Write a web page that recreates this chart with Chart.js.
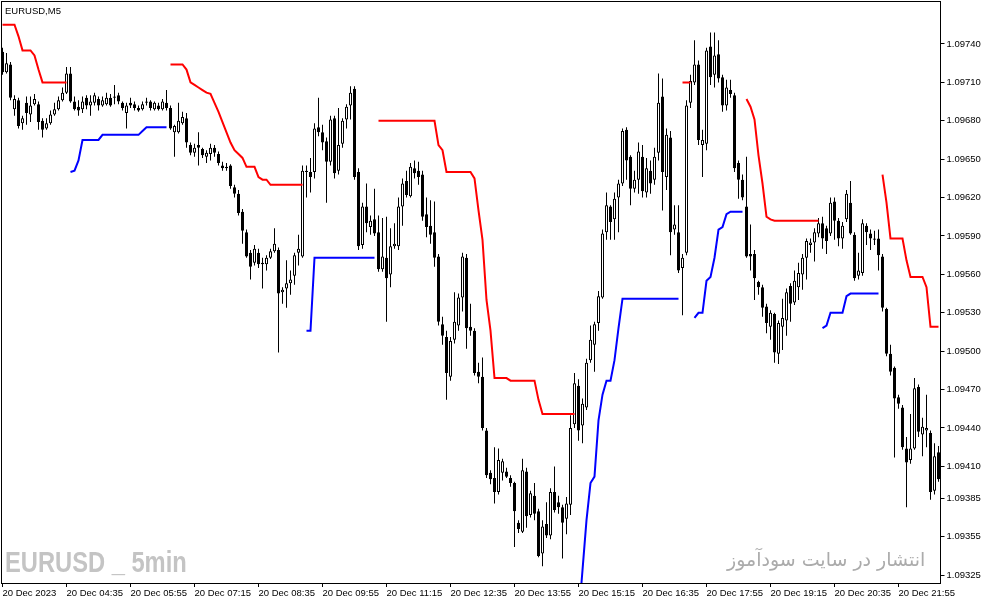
<!DOCTYPE html>
<html>
<head>
<meta charset="utf-8">
<script src="https://cdn.jsdelivr.net/npm/chart.js@4.4.1/dist/chart.umd.min.js"></script>
<style>
    html, body { margin: 0; padding: 0; background: #fff; }
    #wrap { position: relative; width: 987px; height: 605px; overflow: hidden; }
    #chart { position: absolute; left: 0; top: 0; }
    .txt { position: absolute; white-space: nowrap; pointer-events: none; }
    #symbol { left: 5px; top: 5px; font: 9.5px "Liberation Sans", Arial, sans-serif; color: #000; }
    #mark { left: 5px; top: 545px; font: bold 30px "Liberation Sans", Arial, sans-serif; color: #c4c4c4;
        transform: scaleX(0.79); transform-origin: left top; }
    #site { left: 727px; top: 548px; font: 19px "DejaVu Sans", sans-serif; color: #ababab; direction: rtl; }
</style>
</head>
<body>
<div id="wrap">
    <canvas id="chart" width="987" height="605"></canvas>
    <div id="symbol" class="txt">EURUSD,M5</div>
    <div id="mark" class="txt">EURUSD _ 5min</div>
    <div id="site" class="txt">انتشار در سایت سودآموز</div>
</div>
<script>
// EURUSD M5 candles, 20 Dec 2023 from 03:15
const open = [
    1.09734,1.09718,1.09724,1.09689,1.09696,1.09678,1.09694,1.09685,1.09693,1.09693,
    1.09680,1.09674,1.09678,1.09685,1.09689,1.09696,1.09702,1.09717,1.09695,1.09691,
    1.09689,1.09698,1.09692,1.09694,1.09697,1.09692,1.09693,1.09698,1.09698,1.09700,
    1.09694,1.09686,1.09694,1.09693,1.09690,1.09689,1.09694,1.09695,1.09689,1.09692,
    1.09689,1.09694,1.09690,1.09671,1.09671,1.09678,1.09682,1.09661,1.09655,1.09661,
    1.09658,1.09652,1.09654,1.09659,1.09654,1.09645,1.09644,1.09645,1.09628,1.09623,
    1.09609,1.09593,1.09577,1.09569,1.09577,1.09569,1.09568,1.09573,1.09578,1.09579,
    1.09546,1.09549,1.09553,1.09559,1.09577,1.09574,1.09641,1.09640,1.09640,1.09675,
    1.09671,1.09664,1.09648,1.09682,1.09641,1.09662,1.09681,1.09692,1.09705,1.09640,
    1.09583,1.09613,1.09597,1.09603,1.09593,1.09564,1.09573,1.09560,1.09582,1.09582,
    1.09613,1.09633,1.09621,1.09643,1.09641,1.09638,1.09607,1.09598,1.09593,1.09574,
    1.09521,1.09511,1.09480,1.09509,1.09520,1.09542,1.09573,1.09519,1.09516,1.09484,
    1.09480,1.09438,1.09405,1.09401,1.09390,1.09405,1.09406,1.09401,1.09397,1.09366,
    1.09359,1.09406,1.09372,1.09387,1.09375,1.09342,1.09365,1.09356,1.09390,1.09382,
    1.09378,1.09369,1.09380,1.09443,1.09473,1.09442,1.09456,1.09493,1.09505,1.09522,
    1.09542,1.09593,1.09613,1.09603,1.09620,1.09631,1.09673,1.09652,1.09627,1.09634,
    1.09652,1.09624,1.09641,1.09634,1.09655,1.09699,1.09636,1.09667,1.09595,1.09593,
    1.09565,1.09577,1.09694,1.09710,1.09724,1.09661,1.09662,1.09738,1.09716,1.09732,
    1.09714,1.09692,1.09704,1.09700,1.09647,1.09634,1.09613,1.09576,1.09576,1.09554,
    1.09550,1.09535,1.09519,1.09529,1.09498,1.09519,1.09524,1.09551,1.09538,1.09550,
    1.09560,1.09573,1.09583,1.09585,1.09592,1.09600,1.09596,1.09592,1.09617,1.09602,
    1.09588,1.09603,1.09616,1.09591,1.09559,1.09561,1.09598,1.09592,1.09588,1.09588,
    1.09574,1.09533,1.09498,1.09487,1.09464,1.09456,1.09424,1.09415,1.09424,1.09472,
    1.09435,1.09438,1.09436,1.09391,1.09421
];
const high = [
    1.09737,1.09733,1.09726,1.09700,1.09698,1.09684,1.09699,1.09699,1.09701,1.09695,
    1.09682,1.09682,1.09688,1.09694,1.09699,1.09706,1.09722,1.09722,1.09699,1.09696,
    1.09699,1.09700,1.09700,1.09702,1.09699,1.09699,1.09702,1.09701,1.09708,1.09702,
    1.09695,1.09694,1.09698,1.09695,1.09692,1.09695,1.09698,1.09696,1.09695,1.09694,
    1.09697,1.09704,1.09692,1.09677,1.09694,1.09687,1.09686,1.09663,1.09662,1.09671,
    1.09659,1.09657,1.09662,1.09661,1.09656,1.09648,1.09647,1.09646,1.09630,1.09626,
    1.09611,1.09595,1.09579,1.09583,1.09580,1.09573,1.09575,1.09580,1.09596,1.09581,
    1.09550,1.09571,1.09563,1.09577,1.09591,1.09645,1.09645,1.09651,1.09678,1.09698,
    1.09677,1.09667,1.09684,1.09684,1.09690,1.09682,1.09693,1.09707,1.09707,1.09643,
    1.09616,1.09631,1.09606,1.09627,1.09606,1.09604,1.09605,1.09596,1.09600,1.09620,
    1.09635,1.09641,1.09647,1.09649,1.09648,1.09641,1.09620,1.09618,1.09617,1.09576,
    1.09527,1.09516,1.09511,1.09546,1.09545,1.09577,1.09576,1.09537,1.09518,1.09491,
    1.09495,1.09440,1.09407,1.09425,1.09424,1.09416,1.09409,1.09403,1.09398,1.09368,
    1.09416,1.09409,1.09391,1.09397,1.09377,1.09368,1.09382,1.09393,1.09410,1.09387,
    1.09380,1.09386,1.09450,1.09483,1.09478,1.09463,1.09494,1.09520,1.09523,1.09547,
    1.09595,1.09624,1.09614,1.09624,1.09634,1.09674,1.09675,1.09653,1.09641,1.09663,
    1.09661,1.09651,1.09649,1.09659,1.09717,1.09713,1.09674,1.09672,1.09614,1.09614,
    1.09576,1.09696,1.09716,1.09743,1.09727,1.09673,1.09737,1.09749,1.09749,1.09743,
    1.09716,1.09712,1.09712,1.09702,1.09649,1.09638,1.09652,1.09599,1.09579,1.09555,
    1.09552,1.09537,1.09532,1.09530,1.09524,1.09541,1.09549,1.09553,1.09563,1.09569,
    1.09576,1.09588,1.09588,1.09596,1.09604,1.09605,1.09598,1.09620,1.09620,1.09604,
    1.09601,1.09626,1.09633,1.09593,1.09577,1.09603,1.09600,1.09595,1.09594,1.09595,
    1.09576,1.09534,1.09505,1.09488,1.09466,1.09458,1.09433,1.09451,1.09479,1.09474,
    1.09448,1.09466,1.09438,1.09428,1.09426
];
const low = [
    1.09716,1.09717,1.09696,1.09684,1.09674,1.09673,1.09677,1.09679,1.09692,1.09673,
    1.09667,1.09673,1.09677,1.09684,1.09688,1.09695,1.09701,1.09694,1.09688,1.09684,
    1.09686,1.09689,1.09684,1.09692,1.09688,1.09691,1.09692,1.09691,1.09693,1.09693,
    1.09688,1.09674,1.09690,1.09688,1.09687,1.09688,1.09692,1.09688,1.09688,1.09688,
    1.09688,1.09688,1.09673,1.09652,1.09670,1.09677,1.09659,1.09653,1.09652,1.09645,
    1.09651,1.09647,1.09649,1.09652,1.09645,1.09641,1.09641,1.09627,1.09620,1.09606,
    1.09584,1.09573,1.09556,1.09567,1.09565,1.09549,1.09563,1.09572,1.09577,1.09499,
    1.09537,1.09534,1.09544,1.09552,1.09567,1.09573,1.09620,1.09624,1.09635,1.09668,
    1.09657,1.09616,1.09645,1.09635,1.09638,1.09659,1.09674,1.09681,1.09634,1.09579,
    1.09580,1.09593,1.09591,1.09590,1.09562,1.09562,1.09523,1.09550,1.09580,1.09579,
    1.09598,1.09620,1.09620,1.09635,1.09630,1.09602,1.09589,1.09584,1.09566,1.09520,
    1.09505,1.09462,1.09477,1.09506,1.09516,1.09531,1.09502,1.09512,1.09481,1.09475,
    1.09438,1.09401,1.09396,1.09381,1.09388,1.09399,1.09401,1.09394,1.09347,1.09358,
    1.09358,1.09362,1.09370,1.09368,1.09339,1.09332,1.09354,1.09353,1.09374,1.09373,
    1.09338,1.09357,1.09372,1.09440,1.09430,1.09428,1.09454,1.09491,1.09484,1.09516,
    1.09541,1.09587,1.09587,1.09587,1.09593,1.09629,1.09634,1.09614,1.09624,1.09623,
    1.09620,1.09620,1.09623,1.09630,1.09649,1.09610,1.09626,1.09575,1.09591,1.09561,
    1.09528,1.09575,1.09690,1.09708,1.09661,1.09636,1.09657,1.09708,1.09706,1.09710,
    1.09687,1.09688,1.09698,1.09640,1.09619,1.09618,1.09573,1.09563,1.09540,1.09544,
    1.09527,1.09514,1.09509,1.09491,1.09490,1.09501,1.09512,1.09523,1.09536,1.09540,
    1.09548,1.09556,1.09577,1.09570,1.09589,1.09580,1.09576,1.09590,1.09587,1.09582,
    1.09580,1.09601,1.09591,1.09555,1.09556,1.09559,1.09583,1.09579,1.09583,1.09563,
    1.09531,1.09496,1.09481,1.09417,1.09455,1.09423,1.09378,1.09412,1.09423,1.09433,
    1.09418,1.09425,1.09384,1.09388,1.09398
];
const close = [
    1.09718,1.09725,1.09698,1.09697,1.09676,1.09682,1.09686,1.09692,1.09697,1.09679,
    1.09673,1.09678,1.09685,1.09689,1.09696,1.09702,1.09717,1.09695,1.09689,1.09688,
    1.09695,1.09692,1.09695,1.09700,1.09692,1.09696,1.09698,1.09692,1.09699,1.09695,
    1.09690,1.09692,1.09692,1.09690,1.09688,1.09693,1.09695,1.09690,1.09694,1.09689,
    1.09695,1.09690,1.09674,1.09676,1.09680,1.09683,1.09663,1.09655,1.09659,1.09659,
    1.09653,1.09655,1.09659,1.09655,1.09647,1.09643,1.09643,1.09629,1.09623,1.09608,
    1.09594,1.09574,1.09566,1.09580,1.09568,1.09568,1.09573,1.09578,1.09584,1.09545,
    1.09548,1.09553,1.09556,1.09575,1.09580,1.09641,1.09640,1.09636,1.09674,1.09671,
    1.09663,1.09648,1.09681,1.09639,1.09661,1.09680,1.09691,1.09702,1.09636,1.09582,
    1.09613,1.09600,1.09602,1.09592,1.09564,1.09574,1.09557,1.09582,1.09584,1.09613,
    1.09631,1.09622,1.09644,1.09639,1.09636,1.09605,1.09597,1.09591,1.09573,1.09523,
    1.09512,1.09483,1.09508,1.09523,1.09542,1.09574,1.09518,1.09516,1.09483,1.09480,
    1.09440,1.09403,1.09400,1.09390,1.09415,1.09414,1.09402,1.09397,1.09375,1.09361,
    1.09407,1.09371,1.09389,1.09373,1.09340,1.09363,1.09356,1.09390,1.09376,1.09378,
    1.09366,1.09381,1.09440,1.09475,1.09438,1.09459,1.09491,1.09509,1.09521,1.09543,
    1.09592,1.09614,1.09601,1.09619,1.09631,1.09672,1.09649,1.09627,1.09634,1.09656,
    1.09625,1.09643,1.09631,1.09652,1.09694,1.09640,1.09669,1.09593,1.09599,1.09563,
    1.09573,1.09692,1.09711,1.09724,1.09665,1.09665,1.09735,1.09714,1.09731,1.09713,
    1.09692,1.09706,1.09701,1.09643,1.09634,1.09620,1.09574,1.09574,1.09557,1.09550,
    1.09534,1.09522,1.09530,1.09499,1.09522,1.09526,1.09546,1.09537,1.09555,1.09561,
    1.09573,1.09586,1.09585,1.09593,1.09600,1.09588,1.09586,1.09616,1.09602,1.09588,
    1.09598,1.09623,1.09592,1.09557,1.09563,1.09600,1.09593,1.09588,1.09587,1.09575,
    1.09534,1.09498,1.09484,1.09463,1.09459,1.09425,1.09413,1.09424,1.09471,1.09437,
    1.09441,1.09440,1.09390,1.09418,1.09400
];

// trend stop line: red above price, blue below
const upper = [
    1.09755,1.09755,1.09755,1.09755,1.09746,1.09735,1.09735,1.09735,1.09731,1.09720,
    1.09710,1.09710,1.09710,1.09710,1.09710,1.09710,1.09710,null,null,null,
    null,null,null,null,null,null,null,null,null,null,
    null,null,null,null,null,null,null,null,null,null,
    null,null,1.09724,1.09724,1.09724,1.09724,1.09720,1.09710,1.09708,1.09706,
    1.09704,1.09702,1.09701,1.09694,1.09687,1.09679,1.09671,1.09663,1.09657,1.09654,
    1.09651,1.09644,1.09644,1.09644,1.09636,1.09634,1.09634,1.09630,1.09630,1.09630,
    1.09630,1.09630,1.09630,1.09630,1.09630,1.09630,null,null,null,null,
    null,null,null,null,null,null,null,null,null,null,
    null,null,null,null,1.09680,1.09680,1.09680,1.09680,1.09680,1.09680,
    1.09680,1.09680,1.09680,1.09680,1.09680,1.09680,1.09680,1.09680,1.09680,1.09661,
    1.09657,1.09640,1.09640,1.09640,1.09640,1.09640,1.09640,1.09640,1.09635,1.09610,
    1.09587,1.09540,1.09516,1.09479,1.09479,1.09479,1.09479,1.09477,1.09477,1.09477,
    1.09477,1.09477,1.09477,1.09477,1.09462,1.09451,1.09451,1.09451,1.09451,1.09451,
    1.09451,1.09451,1.09451,1.09451,null,null,null,null,null,null,
    null,null,null,null,null,null,null,null,null,null,
    null,null,null,null,null,null,null,null,null,null,
    1.09710,1.09710,1.09710,null,null,null,null,null,null,null,
    null,null,null,null,null,null,1.09697,1.09691,1.09681,1.09653,
    1.09631,1.09605,1.09603,1.09602,1.09602,1.09602,1.09602,1.09602,1.09602,1.09602,
    1.09602,1.09602,1.09602,1.09602,1.09602,null,null,null,null,null,
    null,null,null,null,null,null,null,null,null,null,
    1.09638,1.09616,1.09588,1.09588,1.09588,1.09588,1.09571,1.09558,1.09558,1.09558,
    1.09558,1.09550,1.09519,1.09519,1.09519
];
const lower = [
    null,null,null,null,null,null,null,null,null,null,
    null,null,null,null,null,null,null,1.09640,1.09641,1.09649,
    1.09665,1.09665,1.09665,1.09665,1.09665,1.09669,1.09669,1.09669,1.09669,1.09669,
    1.09669,1.09669,1.09669,1.09669,1.09669,1.09672,1.09675,1.09675,1.09675,1.09675,
    1.09675,1.09675,null,null,null,null,null,null,null,null,
    null,null,null,null,null,null,null,null,null,null,
    null,null,null,null,null,null,null,null,null,null,
    null,null,null,null,null,null,1.09516,1.09516,1.09573,1.09573,
    1.09573,1.09573,1.09573,1.09573,1.09573,1.09573,1.09573,1.09573,1.09573,1.09573,
    1.09573,1.09573,1.09573,1.09573,null,null,null,null,null,null,
    null,null,null,null,null,null,null,null,null,null,
    null,null,null,null,null,null,null,null,null,null,
    null,null,null,null,null,null,null,null,null,null,
    null,null,null,null,null,null,null,null,null,null,
    null,null,null,null,1.09290,1.09329,1.09368,1.09397,1.09402,1.09446,
    1.09466,1.09477,1.09477,1.09493,1.09518,1.09541,1.09541,1.09541,1.09541,1.09541,
    1.09541,1.09541,1.09541,1.09541,1.09541,1.09541,1.09541,1.09541,1.09541,1.09541,
    null,null,null,1.09526,1.09530,1.09530,1.09555,1.09558,1.09573,1.09595,
    1.09597,1.09607,1.09609,1.09609,1.09609,1.09609,null,null,null,null,
    null,null,null,null,null,null,null,null,null,null,
    null,null,null,null,null,1.09518,1.09520,1.09530,1.09530,1.09530,
    1.09530,1.09543,1.09545,1.09545,1.09545,1.09545,1.09545,1.09545,1.09545,1.09545,
    null,null,null,null,null,null,null,null,null,null,
    null,null,null,null,null
];

const priceTicks = [1.09740, 1.09710, 1.09680, 1.09650, 1.09620, 1.09590, 1.09560, 1.09530,
    1.09500, 1.09470, 1.09440, 1.09410, 1.09385, 1.09355, 1.09325];
const timeTicks = ['20 Dec 2023', '20 Dec 04:35', '20 Dec 05:55', '20 Dec 07:15', '20 Dec 08:35',
    '20 Dec 09:55', '20 Dec 11:15', '20 Dec 12:35', '20 Dec 13:55', '20 Dec 15:15',
    '20 Dec 16:35', '20 Dec 17:55', '20 Dec 19:15', '20 Dec 20:35', '20 Dec 21:55'];
const barsPerTick = 16;

const app = {
    init() {
        const labels = close.map((_, i) => {
            const m = 3 * 60 + 15 + 5 * i;
            return String(Math.floor(m / 60)).padStart(2, '0') + ':' + String(m % 60).padStart(2, '0');
        });
        const font = { family: '"Liberation Sans", Arial, sans-serif', size: 9.5 };

        // black frame round the plot, like the terminal
        const frame = {
            id: 'frame',
            afterDraw(chart) {
                const { ctx, chartArea: a } = chart;
                ctx.save();
                ctx.strokeStyle = '#000';
                ctx.lineWidth = 1;
                ctx.strokeRect(Math.round(a.left) + 0.5, Math.round(a.top) - 0.5,
                    Math.round(a.right - a.left) - 1, Math.round(a.bottom - a.top) + 1);
                ctx.restore();
            }
        };

        new Chart(document.getElementById('chart'), {
            type: 'bar',
            data: {
                labels: labels,
                datasets: [
                    {
                        type: 'line', data: upper, borderColor: '#ff0000', borderWidth: 2,
                        pointRadius: 0, spanGaps: false, order: 0
                    },
                    {
                        type: 'line', data: lower, borderColor: '#0000ff', borderWidth: 2,
                        pointRadius: 0, spanGaps: false, order: 0
                    },
                    {
                        data: open.map((o, i) => [o, close[i]]),
                        backgroundColor: (c) => close[c.dataIndex] >= open[c.dataIndex] ? '#ffffff' : '#000000',
                        borderColor: '#000', borderWidth: 1, borderSkipped: false,
                        barThickness: 3, minBarLength: 1, inflateAmount: 0, grouped: false, order: 1
                    },
                    {
                        data: low.map((l, i) => [l, high[i]]),
                        backgroundColor: '#000', borderWidth: 0,
                        barThickness: 1, inflateAmount: 0, grouped: false, order: 2
                    }
                ]
            },
            options: {
                responsive: false,
                animation: false,
                devicePixelRatio: 1,
                layout: { autoPadding: false, padding: { left: 0.5, top: 2, right: 0, bottom: 0 } },
                plugins: { legend: { display: false }, tooltip: { enabled: false } },
                scales: {
                    x: {
                        offset: true,
                        border: { display: false },
                        grid: { offset: false, drawOnChartArea: false, tickLength: 4, color: '#000' },
                        ticks: {
                            autoSkip: false, maxRotation: 0, align: 'start', padding: 1,
                            color: '#000', font: font,
                            callback: (v) => timeTicks[v / barsPerTick]
                        },
                        afterBuildTicks: (s) => { s.ticks = s.ticks.filter(t => t.value % barsPerTick === 0); },
                        afterFit: (s) => { s.height = 22; s.paddingLeft = 0; s.paddingRight = 0; }
                    },
                    y: {
                        position: 'right',
                        min: 1.093189,
                        max: 1.097728,
                        border: { display: false },
                        grid: { drawOnChartArea: false, tickLength: 4, color: '#000' },
                        ticks: { padding: 2, color: '#000', font: font, callback: (v) => v.toFixed(5) },
                        afterBuildTicks: (s) => { s.ticks = priceTicks.map(v => ({ value: v })); },
                        afterFit: (s) => { s.width = 46.5; s.paddingTop = 0; s.paddingBottom = 0; }
                    }
                }
            },
            plugins: [frame]
        });
    }
};

app.init();
</script>
</body>
</html>
